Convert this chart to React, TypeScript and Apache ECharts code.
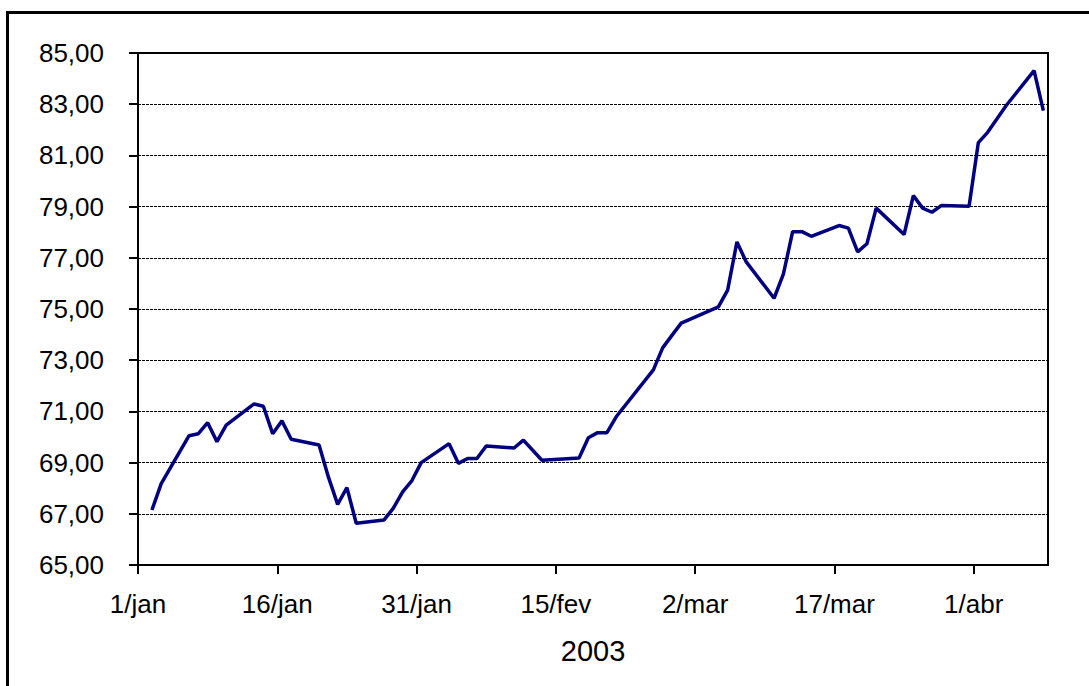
import React, { useEffect, useRef } from "react";
import * as echarts from "echarts";

// Daily closing values
const dates: string[] = [
  "2003-01-02", "2003-01-03", "2003-01-06", "2003-01-07", "2003-01-08", "2003-01-09", "2003-01-10",
  "2003-01-13", "2003-01-14", "2003-01-15", "2003-01-16", "2003-01-17",
  "2003-01-20", "2003-01-21", "2003-01-22", "2003-01-23", "2003-01-24",
  "2003-01-27", "2003-01-28", "2003-01-29", "2003-01-30", "2003-01-31",
  "2003-02-03", "2003-02-04", "2003-02-05", "2003-02-06", "2003-02-07",
  "2003-02-10", "2003-02-11", "2003-02-13", "2003-02-17", "2003-02-18",
  "2003-02-19", "2003-02-20", "2003-02-21", "2003-02-25", "2003-02-26",
  "2003-02-27", "2003-02-28", "2003-03-04", "2003-03-05", "2003-03-06",
  "2003-03-07", "2003-03-10", "2003-03-11", "2003-03-12", "2003-03-13",
  "2003-03-14", "2003-03-17", "2003-03-18", "2003-03-19", "2003-03-20",
  "2003-03-21", "2003-03-24", "2003-03-25", "2003-03-26", "2003-03-27",
  "2003-03-28", "2003-03-31", "2003-04-01", "2003-04-02", "2003-04-04",
  "2003-04-07", "2003-04-08",
];

const values: number[] = [
  67.15, 68.18, 70.05, 70.13, 70.56, 69.82, 70.46,
  71.29, 71.2, 70.13, 70.63, 69.91,
  69.69, 68.44, 67.37, 68.02, 66.63,
  66.76, 67.22, 67.86, 68.3, 69.0,
  69.74, 68.97, 69.16, 69.16, 69.65,
  69.57, 69.88, 69.09, 69.18, 69.97,
  70.17, 70.17, 70.79, 72.62, 73.48,
  73.97, 74.45, 75.08, 75.74, 77.62,
  76.84, 75.42, 76.36, 78.02, 78.02,
  77.84, 78.26, 78.16, 77.23, 77.55,
  78.94, 77.91, 79.43, 78.94, 78.78,
  79.04, 79.01, 81.5, 81.9, 82.95,
  84.31, 82.75,
];

const tickLabels: string[] = ["1/jan", "16/jan", "31/jan", "15/fev", "2/mar", "17/mar", "1/abr"];
const monthAbbr: string[] = ["jan", "fev", "mar", "abr", "mai", "jun", "jul", "ago", "set", "out", "nov", "dez"];
const YEAR = 2003;
const axisStart = "2003-01-01";
const axisEnd = "2003-04-09";
const yMin = 65;
const yMax = 85;
const yStep = 2;
const xTitle = "2003";

function dayIndex(iso: string): number {
  const [y, m, d] = iso.split("-").map(Number);
  return (Date.UTC(y, m - 1, d) - Date.UTC(YEAR, 0, 1)) / 86400000;
}

function labelDay(label: string): number {
  const [d, mon] = label.split("/");
  const m = monthAbbr.indexOf(mon);
  return (Date.UTC(YEAR, m, Number(d)) - Date.UTC(YEAR, 0, 1)) / 86400000;
}

const FONT = "'Liberation Sans', Arial, sans-serif";

export default function App() {
  const ref = useRef<HTMLDivElement>(null);

  useEffect(() => {
    if (!ref.current) return;
    const chart = echarts.init(ref.current, null, { renderer: "svg" });
    const tickDays = tickLabels.map(labelDay);
    // Excel date axis: each date's point sits in the middle of its day slot
    const seriesData = dates.map((d, i) => [dayIndex(d) + 0.5, values[i]]);

    chart.setOption({
      animation: false,
      backgroundColor: "#ffffff",
      textStyle: { fontFamily: FONT, color: "#000" },
      graphic: [
        {
          type: "rect",
          shape: { x: 7.5, y: 12.5, width: 1100, height: 700 },
          style: { fill: "none", stroke: "#000", lineWidth: 3 },
          silent: true,
        },
      ],
      grid: {
        left: 138,
        top: 53,
        right: 41,
        bottom: 121,
        show: true,
        borderColor: "#000",
        borderWidth: 2,
        backgroundColor: "transparent",
      },
      xAxis: {
        type: "value",
        min: dayIndex(axisStart),
        max: dayIndex(axisEnd),
        name: xTitle,
        nameLocation: "middle",
        nameGap: 71,
        nameTextStyle: { fontSize: 29, color: "#000", fontFamily: FONT },
        axisLine: { show: true, onZero: false, lineStyle: { color: "#000", width: 2 } },
        axisTick: {
          show: true,
          customValues: tickDays,
          length: 9,
          lineStyle: { color: "#000", width: 2 },
        },
        axisLabel: {
          customValues: tickDays,
          margin: 26,
          fontSize: 26,
          color: "#000",
          fontFamily: FONT,
          formatter: (v: number) => {
            const idx = tickDays.indexOf(v);
            return idx >= 0 ? tickLabels[idx] : "";
          },
        },
        splitLine: { show: false },
      },
      yAxis: {
        type: "value",
        min: yMin,
        max: yMax,
        interval: yStep,
        axisLine: { show: true, lineStyle: { color: "#000", width: 2 } },
        axisTick: { show: true, length: 9, lineStyle: { color: "#000", width: 2 } },
        axisLabel: {
          margin: 34,
          fontSize: 26,
          color: "#000",
          fontFamily: FONT,
          formatter: (v: number) => v.toFixed(2).replace(".", ","),
        },
        splitLine: { show: true, lineStyle: { color: "#000", width: 1.2, type: [3, 1] } },
      },
      series: [
        {
          type: "line",
          data: seriesData,
          showSymbol: false,
          symbol: "none",
          lineStyle: { color: "#000080", width: 3.5 },
          itemStyle: { color: "#000080" },
          z: 5,
        },
      ],
    });

    return () => chart.dispose();
  }, []);

  return (
    <div
      ref={ref}
      style={{ position: "absolute", left: 0, top: 0, width: 1089, height: 686 }}
    />
  );
}
